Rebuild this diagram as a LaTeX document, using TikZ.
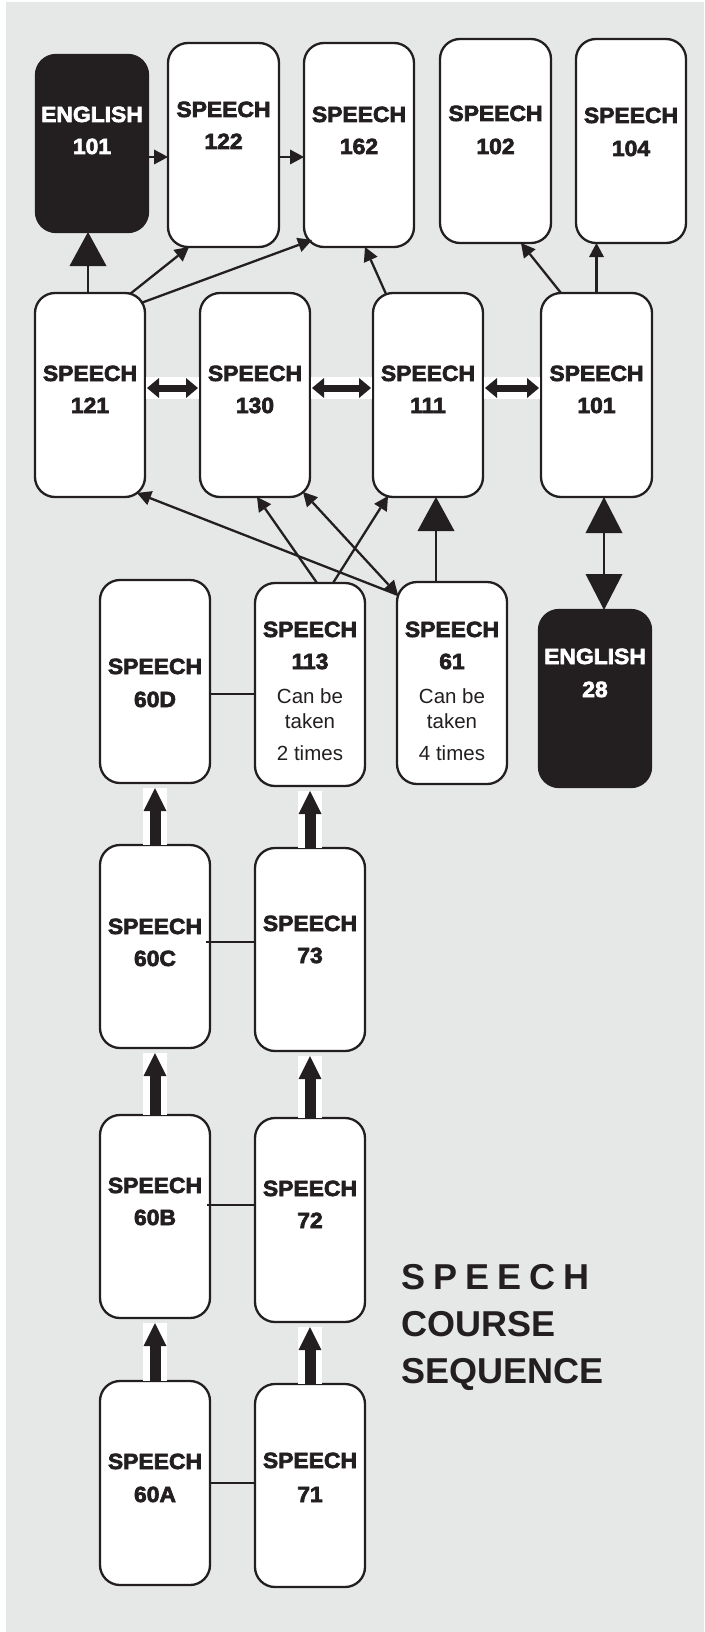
\documentclass[tikz,border=0pt]{standalone}
\usepackage{fontspec}
\setmainfont{Liberation Sans}
\newfontfamily\heavy{Liberation Sans}[BoldFeatures={FakeBold=3,FakeStretch=1.04}]
\newfontfamily\titlefont{Liberation Sans}
\usetikzlibrary{arrows.meta,calc}
\definecolor{dark}{RGB}{35,31,32}
\definecolor{bg}{RGB}{230,232,231}
\newcommand\cbox[6]{\node[#6,minimum width={(#4-#2)*1pt},minimum height={(#5-#3)*1pt}] (#1) at ({(#2+#4)/2},{(#3+#5)/2}) {};}
\begin{document}
\begin{tikzpicture}[x=1pt,y=-1pt,
  box/.style={draw=dark,line width=2.3pt,fill=white,rounded corners=20pt,inner sep=0pt,outer sep=0pt},
  blackbox/.style={box,fill=dark},
  lbl/.style={font=\heavy\bfseries\fontsize{22}{26}\selectfont,text=dark,inner sep=0pt,anchor=base},
  wlbl/.style={lbl,text=white},
  note/.style={font=\fontsize{20.5}{24}\selectfont,text=dark,inner sep=0pt,anchor=base},
  ttl/.style={font=\titlefont\bfseries\fontsize{36}{44}\selectfont,text=dark,inner sep=0pt,anchor=base west},
  conn/.style={draw=dark,line width=2.3pt},
  small/.style={conn,-{Triangle[width=15pt,length=14pt,line width=0pt]}},
  smallboth/.style={conn,{Triangle[width=15pt,length=14pt,line width=0pt]}-{Triangle[width=15pt,length=14pt,line width=0pt]}},
  big/.style={conn,-{Triangle[width=37pt,length=34pt,line width=0pt]}},
  bigboth/.style={conn,{Triangle[width=37pt,length=36pt,line width=0pt]}-{Triangle[width=37pt,length=36pt,line width=0pt]}},
  dbl/.style={draw=dark,line width=7pt,{Triangle[width=20pt,length=12pt,line width=0pt]}-{Triangle[width=20pt,length=12pt,line width=0pt]}},
  thickarrow/.style={draw=dark,line width=11pt,-{Triangle[width=23pt,length=23pt,line width=0pt]}},
  band/.style={fill=white}
]
\useasboundingbox (0,0) rectangle (704,1632);
\fill[white] (0,0) rectangle (704,1632);
\fill[bg] (6,2) rectangle (704,1632);

% ---------- boxes ----------
\cbox{E101}{36}{55}{148}{232}{blackbox}
\cbox{S122}{168}{43}{279}{247}{box}
\cbox{S162}{304}{43}{414}{247}{box}
\cbox{S102}{440}{39}{551}{243}{box}
\cbox{S104}{576}{39}{686}{243}{box}

\cbox{S121}{35}{293}{145}{497}{box}
\cbox{S130}{200}{293}{310}{497}{box}
\cbox{S111}{373}{293}{483}{497}{box}
\cbox{S101}{541}{293}{652}{497}{box}

\cbox{S60D}{100}{580}{210}{783}{box}
\cbox{S113}{255}{583}{365}{786}{box}
\cbox{S61}{397}{582}{507}{784}{box}
\cbox{E28}{539}{610}{651}{787}{blackbox}

\cbox{S60C}{100}{845}{210}{1048}{box}
\cbox{S73}{255}{848}{365}{1051}{box}

\cbox{S60B}{100}{1115}{210}{1318}{box}
\cbox{S72}{255}{1118}{365}{1322}{box}

\cbox{S60A}{100}{1381}{210}{1585}{box}
\cbox{S71}{255}{1384}{365}{1587}{box}

% ---------- white bands ----------
\fill[band] ([shift={(1,-18)}]S121.east) rectangle ([shift={(-1,4)}]S130.west);
\fill[band] ([shift={(1,-18)}]S130.east) rectangle ([shift={(-1,4)}]S111.west);
\fill[band] ([shift={(1,-18)}]S111.east) rectangle ([shift={(-1,4)}]S101.west);

\fill[band] ([xshift=-12pt]S60A.north) rectangle ([shift={(12,5)}]S60B.south);
\fill[band] ([xshift=-12pt]S60B.north) rectangle ([shift={(12,5)}]S60C.south);
\fill[band] ([xshift=-12pt]S60C.north) rectangle ([shift={(12,5)}]S60D.south);
\fill[band] ([xshift=-12pt]S71.north) rectangle ([shift={(12,5)}]S72.south);
\fill[band] ([xshift=-12pt]S72.north) rectangle ([shift={(12,5)}]S73.south);
\fill[band] ([xshift=-12pt]S73.north) rectangle ([shift={(12,5)}]S113.south);

% ---------- connectors ----------
\coordinate (a1) at ([xshift=-2pt]S121.north);
\draw[big] (a1) -- (a1 |- E101.south);
\draw[small] ([shift={(-15,1)}]S121.north east) -- ([shift={(-34.5,0)}]S122.south);
\draw[small] ([shift={(-4,10)}]S121.north east) -- ([shift={(8,-7)}]S162.south west);
\draw[small] ([shift={(0,13.5)}]E101.east) -- ([shift={(0,12)}]S122.west);
\draw[small] ([shift={(0,12)}]S122.east) -- ([shift={(0,12)}]S162.west);
\draw[small] ([shift={(-42,1)}]S111.north) -- ([shift={(6,0)}]S162.south);
\draw[small] ([shift={(-35.5,0)}]S101.north) -- ([shift={(25.5,0)}]S102.south);
\draw[small] (S101.north) -- (S101.north |- S104.south);

\draw[dbl] ([shift={(2,-7)}]S121.east) -- ([shift={(-2,-7)}]S130.west);
\draw[dbl] ([shift={(2,-7)}]S130.east) -- ([shift={(-2,-7)}]S111.west);
\draw[dbl] ([shift={(2,-7)}]S111.east) -- ([shift={(-2,-7)}]S101.west);

\draw[small] ([shift={(7,0)}]S113.north) -- ([shift={(2,0)}]S130.south);
\draw[small] ([shift={(23,0)}]S113.north) -- ([shift={(15,-1)}]S111.south west);
\draw[smallboth] ([shift={(1,13)}]S61.north west) -- ([shift={(-7,-5)}]S130.south east);
\draw[small] ([shift={(1,13)}]S61.north west) -- ([shift={(-8,-4)}]S121.south east);
\coordinate (a2) at ([xshift=-16pt]S61.north);
\draw[big] (a2) -- (a2 |- S111.south);
\coordinate (a3) at ([xshift=7.5pt]S101.south);
\draw[bigboth] (a3) -- (a3 |- E28.north);

\coordinate (j1) at ([shift={(0,12.5)}]S60D.east);
\draw[conn] (j1) -- (j1 -| S113.west);
\coordinate (j2) at ([shift={(-4,-4.5)}]S60C.east);
\draw[conn] (j2) -- (j2 -| S73.west);
\coordinate (j3) at ([shift={(-3,-11.5)}]S60B.east);
\draw[conn] (j3) -- (j3 -| S72.west);
\coordinate (j4) at (S60A.east);
\draw[conn] (j4) -- (j4 -| S71.west);

\draw[thickarrow] (S60A.north) -- ([shift={(0,5)}]S60B.south);
\draw[thickarrow] (S60B.north) -- ([shift={(0,5)}]S60C.south);
\draw[thickarrow] (S60C.north) -- ([shift={(0,5)}]S60D.south);
\draw[thickarrow] (S71.north) -- ([shift={(0,5)}]S72.south);
\draw[thickarrow] (S72.north) -- ([shift={(0,5)}]S73.south);
\draw[thickarrow] (S73.north) -- ([shift={(0,5)}]S113.south);

% ---------- labels ----------
\node[wlbl] (tE101a) at (92,122) {ENGLISH};
\node[wlbl] (tE101b) at (92,154) {101};
\node[lbl] (tS122a) at (223.5,117) {SPEECH};
\node[lbl] (tS122b) at (223.5,149) {122};
\node[lbl] (tS162a) at (359,122) {SPEECH};
\node[lbl] (tS162b) at (359,154) {162};
\node[lbl] (tS102a) at (495.5,121) {SPEECH};
\node[lbl] (tS102b) at (495.5,154) {102};
\node[lbl] (tS104a) at (631,123) {SPEECH};
\node[lbl] (tS104b) at (631,156) {104};

\node[lbl] (tS121a) at (90,381) {SPEECH};
\node[lbl] (tS121b) at (90,413) {121};
\node[lbl] (tS130a) at (255,381) {SPEECH};
\node[lbl] (tS130b) at (255,413) {130};
\node[lbl] (tS111a) at (428,381) {SPEECH};
\node[lbl] (tS111b) at (428,413) {111};
\node[lbl] (tS101a) at (596.5,381) {SPEECH};
\node[lbl] (tS101b) at (596.5,413) {101};

\node[lbl] (tS60Da) at (155,674) {SPEECH};
\node[lbl] (tS60Db) at (155,707) {60D};
\node[lbl] (tS113a) at (310,637) {SPEECH};
\node[lbl] (tS113b) at (310,669) {113};
\node[note] (tS113c) at (310,703) {Can be};
\node[note] (tS113d) at (310,728) {taken};
\node[note] (tS113e) at (310,760) {2 times};
\node[lbl] (tS61a) at (452,637) {SPEECH};
\node[lbl] (tS61b) at (452,669) {61};
\node[note] (tS61c) at (452,703) {Can be};
\node[note] (tS61d) at (452,728) {taken};
\node[note] (tS61e) at (452,760) {4 times};
\node[wlbl] (tE28a) at (595,664) {ENGLISH};
\node[wlbl] (tE28b) at (595,697) {28};

\node[lbl] (tS60Ca) at (155,934) {SPEECH};
\node[lbl] (tS60Cb) at (155,966) {60C};
\node[lbl] (tS73a) at (310,931) {SPEECH};
\node[lbl] (tS73b) at (310,963) {73};

\node[lbl] (tS60Ba) at (155,1193) {SPEECH};
\node[lbl] (tS60Bb) at (155,1225) {60B};
\node[lbl] (tS72a) at (310,1196) {SPEECH};
\node[lbl] (tS72b) at (310,1228) {72};

\node[lbl] (tS60Aa) at (155,1469) {SPEECH};
\node[lbl] (tS60Ab) at (155,1502) {60A};
\node[lbl] (tS71a) at (310,1468) {SPEECH};
\node[lbl] (tS71b) at (310,1502) {71};

\node[ttl] (title1) at (401,1289) {\spaceskip=8pt S P E E C H};
\node[ttl] (title2) at (401,1336) {COURSE};
\node[ttl] (title3) at (401,1383) {SEQUENCE};
\end{tikzpicture}
\end{document}
